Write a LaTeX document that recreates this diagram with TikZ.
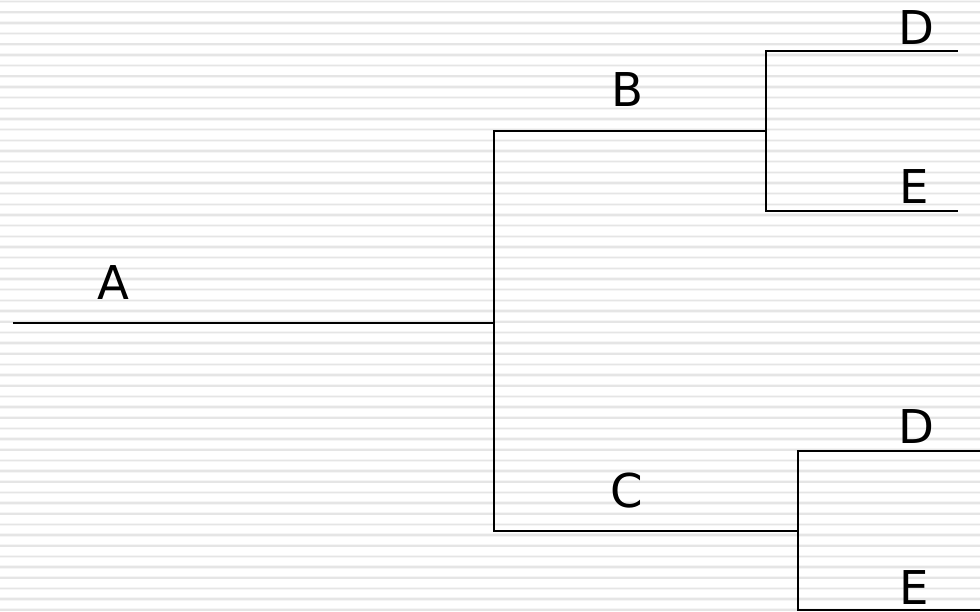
\documentclass[tikz,border=0pt]{standalone}
\usepackage{fontspec}
\setmainfont{DejaVu Sans}
\begin{document}
\begin{tikzpicture}[x=1pt,y=-1pt,
  lbl/.style={inner sep=0pt,anchor=base,font=\fontsize{46.6}{56}\selectfont},
  branch/.style={line width=1.9pt,black,line cap=rect}]
\useasboundingbox (0,0) rectangle (980,611);
\fill[white] (0,0) rectangle (980,611);
\foreach \i in {0,...,57}{
  \draw[line width=3.4pt,black!4] (0,1.6+10.67*\i) -- (980,1.6+10.67*\i);
  \draw[line width=1.6pt,black!10] (0,1.6+10.67*\i) -- (980,1.6+10.67*\i);
}
% labels
\node[lbl] (A) at (113,299) {A};
\node[lbl] (B) at (627,106) {B};
\node[lbl] (C) at (627,507) {C};
\node[lbl] (D1) at (916,44) {D};
\node[lbl] (E1) at (914,203) {E};
\node[lbl] (D2) at (916,443) {D};
\node[lbl] (E2) at (914,604) {E};
% junctions
\coordinate (a0) at (14,323);
\coordinate (a1) at (494,323);
\coordinate (b0) at (494,131);
\coordinate (b1) at (766,131);
\coordinate (c0) at (494,531);
\coordinate (c1) at (798,531);
\coordinate (d1s) at (766,51);
\coordinate (d1e) at (957,51);
\coordinate (e1s) at (766,211);
\coordinate (e1e) at (957,211);
\coordinate (d2s) at (798,451);
\coordinate (d2e) at (980,451);
\coordinate (e2s) at (798,610);
\coordinate (e2e) at (980,610);
% branches
\draw[branch] (a0) -- (a1);
\draw[branch] (b0) -- (c0);
\draw[branch] (b0) -- (b1);
\draw[branch] (c0) -- (c1);
\draw[branch] (d1s) -- (e1s);
\draw[branch] (d1s) -- (d1e);
\draw[branch] (e1s) -- (e1e);
\draw[branch] (d2s) -- (e2s);
\draw[branch] (d2s) -- (d2e);
\draw[branch] (e2s) -- (e2e);
\end{tikzpicture}
\end{document}
